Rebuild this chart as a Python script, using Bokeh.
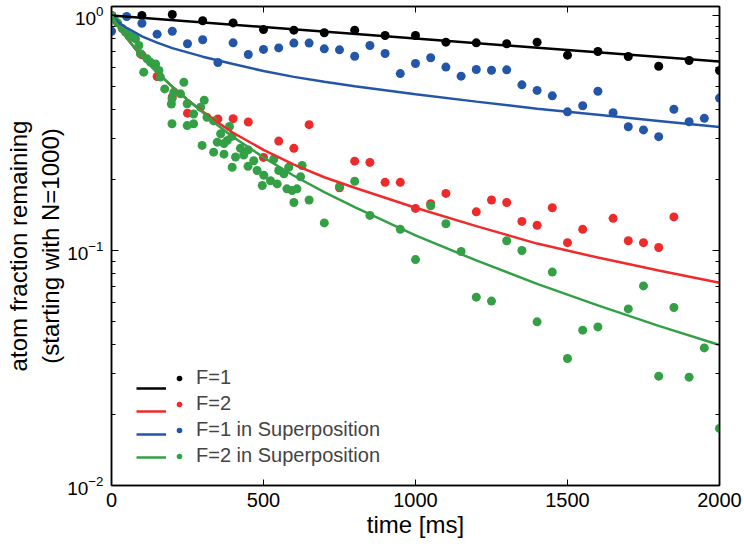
from bokeh.plotting import figure
from bokeh.models import (Range1d, LogAxis, LinearAxis, LogTicker, SingleIntervalTicker,
                          Legend, LegendItem, CustomJSTickFormatter)
from bokeh.embed import file_html
from bokeh.resources import INLINE

# ---------------- data ----------------
# F=1 measured
f1_t = [0, 100, 200, 300, 400, 500, 600, 700, 800, 900, 1000, 1100, 1200, 1300, 1400,
        1500, 1600, 1700, 1800, 1900, 2000]
f1_v = [1.0, 1.0, 1.01, 0.95, 0.93, 0.872, 0.866, 0.844, 0.866, 0.822, 0.822, 0.77, 0.765,
        0.758, 0.77, 0.678, 0.703, 0.669, 0.608, 0.643, 0.583]
# F=1 fit
f1_fit_t = [0, 500, 1000, 1500, 2000]
f1_fit_v = [1.0, 0.893, 0.798, 0.713, 0.637]

# F=2 measured
f2_t = [0, 100, 150, 200, 250, 350, 400, 450, 500, 550, 600, 650, 750, 800, 850, 900, 950,
        1000, 1050, 1100, 1200, 1250, 1300, 1350, 1400, 1450, 1500, 1550, 1650, 1700, 1750,
        1800, 1850]
f2_v = [1.0, 0.68, 0.55, 0.45, 0.384, 0.363, 0.364, 0.352, 0.249, 0.292, 0.272, 0.343, 0.185,
        0.24, 0.237, 0.195, 0.195, 0.151, 0.158, 0.175, 0.146, 0.164, 0.16, 0.133, 0.128,
        0.152, 0.108, 0.123, 0.137, 0.11, 0.108, 0.103, 0.139]
# F=2 fit
f2_fit_t = [0, 25, 50, 75, 100, 150, 200, 250, 300, 350, 400, 500, 600, 700, 800, 1000, 1200,
            1400, 1600, 1800, 2000]
f2_fit_v = [1.0, 0.891, 0.803, 0.730, 0.669, 0.573, 0.498, 0.438, 0.390, 0.350, 0.317, 0.268,
            0.232, 0.205, 0.185, 0.152, 0.127, 0.107, 0.0933, 0.0822, 0.0729]

# F=1 in superposition measured
s1_t = [0, 50, 100, 150, 200, 250, 300, 350, 400, 450, 500, 550, 600, 650, 700, 750, 800, 850,
        900, 950, 1000, 1050, 1100, 1150, 1200, 1250, 1300, 1350, 1400, 1450, 1500, 1550, 1600,
        1650, 1700, 1750, 1800, 1850, 1900, 1950, 2000]
s1_v = [0.857, 0.99, 0.927, 0.833, 0.857, 0.758, 0.788, 0.631, 0.765, 0.682, 0.717, 0.728,
        0.763, 0.763, 0.721, 0.714, 0.671, 0.745, 0.689, 0.566, 0.625, 0.661, 0.603, 0.552,
        0.589, 0.585, 0.587, 0.507, 0.48, 0.455, 0.389, 0.413, 0.476, 0.386, 0.336, 0.326,
        0.305, 0.399, 0.353, 0.365, 0.445]
# F=1 in superposition fit
s1_fit_t = [0, 25, 50, 100, 150, 200, 300, 400, 500, 600, 700, 800, 1000, 1200, 1400, 1600,
            1800, 2000]
s1_fit_v = [1.0, 0.93, 0.885, 0.815, 0.767, 0.726, 0.668, 0.622, 0.580, 0.548, 0.522, 0.500,
            0.462, 0.430, 0.401, 0.378, 0.356, 0.335]

# F=2 in superposition measured
s2_t = [0, 10, 20, 35, 46, 57, 68, 79, 90, 95, 106, 117, 128, 145, 156, 161, 175, 197, 199,
        199, 205, 227, 238, 249, 249, 270, 270, 293, 298, 305, 314, 336, 336, 348, 359, 370,
        370, 381, 388, 396, 397, 408, 424, 435, 449, 450, 468, 479, 496, 501, 523, 534, 545,
        550, 567, 577, 583, 594, 600, 610, 622, 627, 650, 700, 750, 800, 850, 950, 1000, 1050,
        1100, 1150, 1200, 1250, 1300, 1350, 1400, 1450, 1500, 1550, 1600, 1700, 1750, 1800,
        1850, 1900, 1950, 2000]
s2_v = [1.0, 0.96, 0.93, 0.88, 0.849, 0.822, 0.808, 0.795, 0.745, 0.687, 0.574, 0.654, 0.633,
        0.622, 0.583, 0.547, 0.487, 0.42, 0.442, 0.346, 0.472, 0.464, 0.52, 0.421, 0.34, 0.381,
        0.346, 0.407, 0.28, 0.436, 0.369, 0.356, 0.262, 0.289, 0.314, 0.257, 0.285, 0.294,
        0.337, 0.306, 0.226, 0.25, 0.272, 0.255, 0.228, 0.268, 0.241, 0.219, 0.189, 0.209,
        0.198, 0.245, 0.192, 0.219, 0.212, 0.183, 0.226, 0.18, 0.16, 0.183, 0.206, 0.23, 0.164,
        0.131, 0.187, 0.197, 0.141, 0.123, 0.0915, 0.155, 0.13, 0.099, 0.0633, 0.0609, 0.11,
        0.10, 0.0497, 0.0809, 0.0347, 0.0458, 0.0473, 0.0564, 0.0707, 0.0292, 0.0572, 0.0289,
        0.0385, 0.0175]
# F=2 in superposition fit
s2_fit_t = [0, 25, 50, 75, 100, 150, 200, 250, 300, 350, 400, 500, 600, 700, 800, 1000, 1200,
            1400, 1600, 1800, 2000]
s2_fit_v = [1.0, 0.891, 0.803, 0.730, 0.669, 0.573, 0.498, 0.438, 0.387, 0.340, 0.304, 0.249,
            0.208, 0.177, 0.153, 0.116, 0.0907, 0.0721, 0.0584, 0.0478, 0.0396]

labels = ["F=1", "F=2", "F=1 in Superposition", "F=2 in Superposition"]
colors = ["#000000", "#EE2A2A", "#2356A8", "#34A046"]

FONT = "Liberation Sans"

# ---------------- figure ----------------
p = figure(width=744, height=548, x_range=Range1d(0, 2000), y_range=Range1d(0.01, 1.092),
           y_axis_type="log", output_backend="svg", toolbar_location=None,
           min_border_left=111, min_border_right=25, min_border_top=6, min_border_bottom=63)
p.grid.visible = False
p.outline_line_color = "black"
p.outline_line_width = 1.5
p.background_fill_color = "white"
p.border_fill_color = "white"

series = [(f1_t, f1_v, f1_fit_t, f1_fit_v), (f2_t, f2_v, f2_fit_t, f2_fit_v),
          (s1_t, s1_v, s1_fit_t, s1_fit_v), (s2_t, s2_v, s2_fit_t, s2_fit_v)]

dot_r = []
for (t, v, ft, fv), c in zip(series, colors):
    dot_r.append(p.scatter(t, v, size=9, fill_color=c, line_color=None))
line_r = []
for (t, v, ft, fv), c in zip(series, colors):
    line_r.append(p.line(ft, fv, line_color=c, line_width=2.5))

# ---------------- axes ----------------
xt = SingleIntervalTicker(interval=500, num_minor_ticks=0)
yt = LogTicker(num_minor_ticks=10)

def style_axis(ax, major_in, minor_in):
    ax.axis_line_width = 1.5
    ax.axis_line_color = "black"
    ax.major_tick_in = major_in
    ax.major_tick_out = 0
    ax.minor_tick_in = minor_in
    ax.minor_tick_out = 0
    ax.major_tick_line_width = 1
    ax.minor_tick_line_width = 1
    ax.major_label_text_font = FONT
    ax.major_label_text_font_size = "20px"
    ax.major_label_text_color = "black"
    ax.axis_label_text_font = FONT
    ax.axis_label_text_font_size = "24px"
    ax.axis_label_text_font_style = "normal"
    ax.axis_label_text_color = "black"

xa = p.xaxis[0]
xa.ticker = xt
style_axis(xa, 6, 0)
xa.axis_label = "time [ms]"
xa.major_label_standoff = 7
xa.axis_label_standoff = 1

ya = p.yaxis[0]
ya.ticker = yt
style_axis(ya, 7, 4)
ya.major_label_text_font_size = "19px"
ya.axis_label = "atom fraction remaining\n(starting with N=1000)"
ya.major_label_standoff = 8
ya.axis_label_standoff = 0

empty = CustomJSTickFormatter(code="return ''")
top = LinearAxis(ticker=xt, formatter=empty)
style_axis(top, 6, 0)
top.major_label_text_font_size = "0px"
top.major_label_standoff = 0
top.axis_label_standoff = 0
p.add_layout(top, "above")

right = LogAxis(ticker=yt, formatter=empty)
style_axis(right, 7, 4)
right.major_label_text_font_size = "0px"
right.major_label_standoff = 0
right.axis_label_standoff = 0
p.add_layout(right, "right")

# ---------------- legend: line sample, then dot, then text ----------------
def style_legend(lg):
    lg.background_fill_alpha = 0
    lg.border_line_alpha = 0
    lg.padding = 0
    lg.margin = 0
    lg.spacing = 3
    lg.label_text_font = FONT
    lg.label_text_font_size = "20px"
    lg.label_height = 20
    lg.glyph_height = 20

leg_lines = Legend(items=[LegendItem(label=" ", renderers=[r]) for r in line_r],
                   location=(25, 18))
style_legend(leg_lines)
leg_lines.glyph_width = 30
leg_lines.label_standoff = 0

leg_dots = Legend(items=[LegendItem(label=lab, renderers=[r]) for lab, r in zip(labels, dot_r)],
                  location=(61, 18))
style_legend(leg_dots)
leg_dots.glyph_width = 14
leg_dots.label_standoff = 10

p.add_layout(leg_lines)
p.add_layout(leg_dots)

open("out.html", "w").write(file_html(p, INLINE))
